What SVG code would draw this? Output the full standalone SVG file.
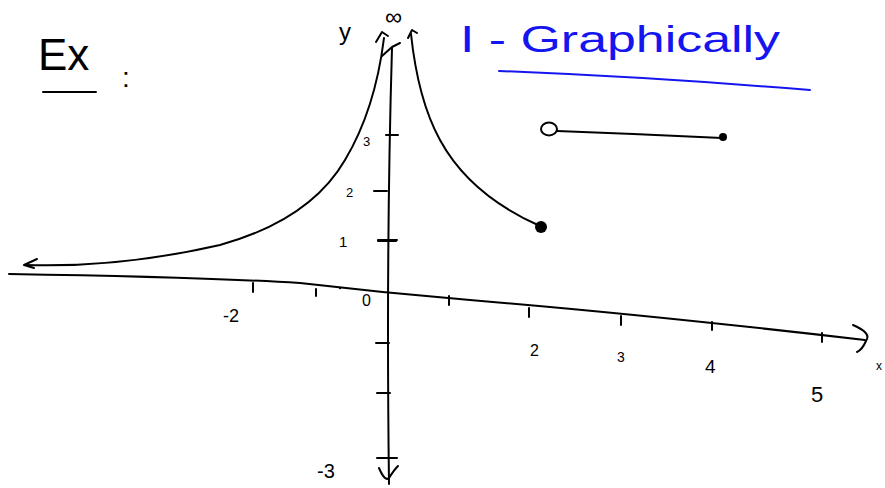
<svg xmlns="http://www.w3.org/2000/svg" width="885" height="488" viewBox="0 0 885 488">
<style>
.ink{fill:none;stroke:#000;stroke-width:2;stroke-linecap:round;stroke-linejoin:round}
.blue{fill:none;stroke:#1515f0;stroke-width:2;stroke-linecap:round}
.t{font-family:"Liberation Sans",Arial,sans-serif;fill:#000}
.tb{font-family:"Liberation Sans",Arial,sans-serif;fill:#1515f0}
</style>
<rect width="885" height="488" fill="#fff"/>
<!-- title -->
<g id="ex">
<text class="t" x="38" y="70" font-size="44">Ex</text>
<path class="ink" d="M43 92 L96 92"/>
<text class="t" x="122" y="87" font-size="28">:</text>
</g>
<g id="heading">
<text class="tb" x="460" y="52" font-size="36" textLength="320" lengthAdjust="spacingAndGlyphs">I - Graphically</text>
<path class="blue" d="M499 71 Q650 77 810 90"/>
</g>
<!-- axes -->
<g id="axes">
<path class="ink" d="M392 48 Q386 250 389 484"/>
<path class="ink" d="M382 56 L392 47 L400 43"/>
<path class="ink" d="M379 468 Q385 482 389 478 Q394 470 398 466"/>
<path class="ink" d="M9 274 Q200 277 300 283 Q385 293 470 300 Q650 315 865 340"/>
<path class="ink" d="M853 325 Q872 333 866 341 Q862 350 857 352"/>
<!-- y ticks -->
<path class="ink" d="M386 135 L398 135 M374 191 L387 191 M378 240 L397 240 M376 343 L389 343 M377 393 L390 393 M377 458 L397 458"/>
<path class="ink" d="M378 241 L396 241" stroke-width="3"/>
<!-- x ticks -->
<path class="ink" d="M253 283 L253 292 M316 289 L316 296 M449 296 L449 305 M529 308 L529 317 M621 316 L621 325 M712 322 L712 330 M822 333 L822 342"/>
<circle cx="340" cy="288" r="1.2" fill="#000"/>
</g>
<g id="labels">
<text class="t" x="339" y="40" font-size="24">y</text>
<text class="t" x="385" y="25" font-size="24">∞</text>
<text class="t" x="363" y="146" font-size="13">3</text>
<text class="t" x="346" y="197" font-size="13">2</text>
<text class="t" x="339" y="247" font-size="15">1</text>
<text class="t" x="362" y="306" font-size="16">0</text>
<text class="t" x="223" y="322" font-size="18">-2</text>
<text class="t" x="530" y="356" font-size="16">2</text>
<text class="t" x="617" y="362" font-size="14">3</text>
<text class="t" x="705" y="373" font-size="19">4</text>
<text class="t" x="811" y="402" font-size="22">5</text>
<text class="t" x="317" y="478" font-size="20">-3</text>
<text class="t" x="876" y="370" font-size="12">x</text>
</g>
<!-- curves -->
<g id="left-branch">
<path class="ink" d="M25 265 Q120 268 220 245 Q310 220 345 160 Q375 110 384 38"/>
<path class="ink" d="M37 259 L24 265 L34 268"/>
<path class="ink" d="M376 42 L382 32 L388 36"/>
</g>
<g id="right-branch">
<path class="ink" d="M411 34 Q418 100 440 140 Q470 195 540 226"/>
<path class="ink" d="M408 38 L412 30 L417 33"/>
<circle cx="541" cy="227" r="6" fill="#000"/>
</g>
<g id="segment">
<path class="ink" d="M557 131 Q640 134 722 138"/>
<ellipse class="ink" cx="549" cy="129" rx="8" ry="6.5"/>
<circle cx="723" cy="137" r="4" fill="#000"/>
</g>
</svg>
